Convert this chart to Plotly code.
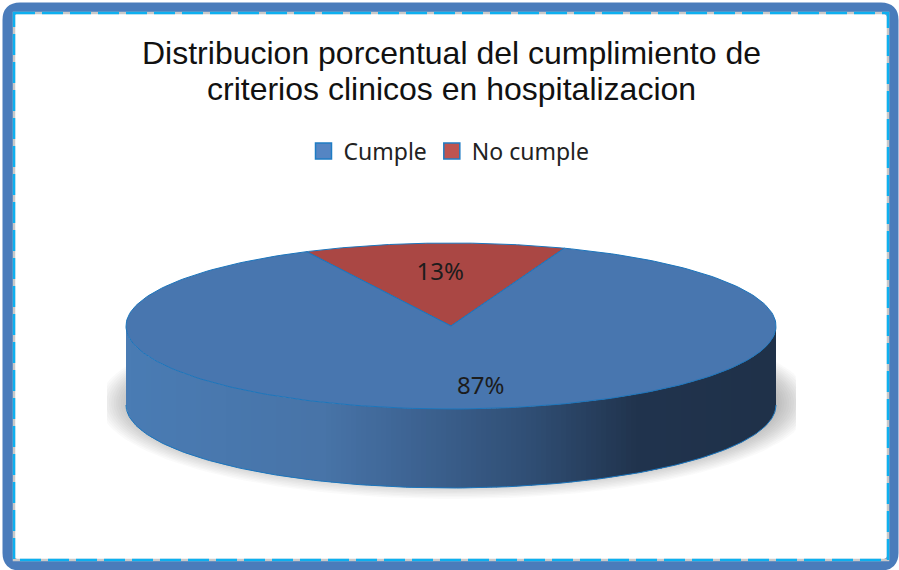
import numpy as np
import plotly.graph_objects as go

# ---- data ----
categories = ["Cumple", "No cumple"]
values = [87, 13]
title_lines = ["Distribucion porcentual del cumplimiento de",
               "criterios clinicos en hospitalizacion"]

# ---- styling / layout ----
W, H = 899, 570
CX, CY, RX, RY, DEPTH = 451, 326, 325, 83, 79
TOP_COLORS = {"Cumple": "#4876AF", "No cumple": "#AA4744"}
LEG_COLORS = {"Cumple": "#5585C3", "No cumple": "#BE5450"}
EDGE = "#1B75BC"
START_DEG = -26.4   # clockwise from 12 o'clock, start of "No cumple"
GRAD_STOPS = [(0.0, (74, 124, 180)), (0.3, (72, 116, 168)), (0.42, (63, 102, 150)),
              (0.62, (48, 78, 116)), (0.78, (33, 52, 78)), (1.0, (31, 49, 73))]


def ell(deg, r=1.0):
    a = np.radians(deg)
    return CX + r * RX * np.sin(a), CY - r * RY * np.cos(a)


def lerp_color(t):
    for (t0, c0), (t1, c1) in zip(GRAD_STOPS, GRAD_STOPS[1:]):
        if t <= t1:
            f = (t - t0) / (t1 - t0)
            return "rgb(%d,%d,%d)" % tuple(c0[i] + f * (c1[i] - c0[i]) for i in range(3))
    return "rgb(31,49,73)"


fig = go.Figure()


def poly(xs, ys, fill, line=None, width=0):
    fig.add_trace(go.Scatter(x=list(xs), y=list(ys), mode="lines", fill="toself", fillcolor=fill,
                             line=dict(color=line or "rgba(0,0,0,0)", width=width),
                             hoverinfo="skip", showlegend=False))


# soft shadow beneath the disc
th = np.linspace(0, 2 * np.pi, 181)
for k in range(20):
    f = k / 19
    rx = 356 - 46 * f
    ry = 96 - 28 * f
    poly(np.clip(CX + 4 + rx * np.cos(th), 107, 796), 403 + ry * np.sin(th), "rgba(90,90,90,0.028)")

# side wall as a horizontal gradient of thin strips
N = 130
edges = np.linspace(CX - RX, CX + RX, N + 1)
for i in range(N):
    x0, x1 = edges[i], min(edges[i + 1] + 1, CX + RX)
    xs = np.linspace(x0, x1, 4)
    up = CY + RY * np.sqrt(np.clip(1 - ((xs - CX) / RX) ** 2, 0, 1))
    poly(np.r_[xs, xs[::-1]], np.r_[up, (up + DEPTH)[::-1]], lerp_color((x0 - edges[0]) / (2 * RX)))

# outline of the bottom of the wall
a = np.linspace(90, 270, 181)
bx, by = ell(a)
fig.add_trace(go.Scatter(x=bx, y=by + DEPTH, mode="lines", line=dict(color=EDGE, width=1),
                         hoverinfo="skip", showlegend=False))

# top face from the values
shares = np.array(values, float) / sum(values) * 360
order = [1, 0]
ang = START_DEG
mids = {}
for idx in order:
    name = categories[idx]
    a = np.linspace(ang, ang + shares[idx], 240)
    ex, ey = ell(a)
    poly(np.r_[CX, ex, CX], np.r_[CY, ey, CY], TOP_COLORS[name], EDGE, 1)
    mids[name] = ang + shares[idx] / 2
    ang += shares[idx]

# value labels
LABEL_R = {"Cumple": 0.75, "No cumple": 0.63}
LABEL_SHIFT = {"Cumple": -4, "No cumple": 0}
for name, v in zip(categories, values):
    lx, ly = ell(mids[name] + LABEL_SHIFT[name], LABEL_R[name])
    fig.add_trace(go.Scatter(x=[lx], y=[ly], mode="text", text=[f"{v}%"], textposition="middle center",
                             textfont=dict(family="Noto Sans", size=24, color="#1c1c1c"),
                             hoverinfo="skip", showlegend=False))

# legend entries
for name in categories:
    fig.add_trace(go.Scatter(x=[None], y=[None], mode="markers", name=name,
                             marker=dict(symbol="square", size=16, color=LEG_COLORS[name],
                                         line=dict(color="#1F7CC4", width=1.5))))

# frame
RAD = 12
x0, y0, x1, y1 = 8, 8, 893, 565
rounded = (f"M {x0+RAD},{y0} L {x1-RAD},{y0} Q {x1},{y0} {x1},{y0+RAD} L {x1},{y1-RAD} Q {x1},{y1} {x1-RAD},{y1} "
           f"L {x0+RAD},{y1} Q {x0},{y1} {x0},{y1-RAD} L {x0},{y0+RAD} Q {x0},{y0} {x0+RAD},{y0} Z")
shapes = [
    dict(type="path", path=rounded, xref="x", yref="y", line=dict(color="#4A7CBB", width=11), layer="above"),
    dict(type="rect", x0=14, y0=13, x1=888, y1=560, xref="x", yref="y",
         line=dict(color="#C9C9C9", width=2.5), layer="above"),
    dict(type="rect", x0=14, y0=13, x1=888, y1=560, xref="x", yref="y",
         line=dict(color="#0DB0F0", width=2.5, dash="21px,7px"), layer="above"),
]

annotations = [
    dict(text=line, x=451, y=yy, xref="x", yref="y", showarrow=False, xanchor="center", yanchor="middle",
         font=dict(family="Liberation Sans", size=32, color="#111111"))
    for line, yy in zip(title_lines, [53, 89])
]

fig.update_layout(
    width=W, height=H, margin=dict(l=0, r=0, t=0, b=0),
    paper_bgcolor="white", plot_bgcolor="white",
    xaxis=dict(range=[0, W], visible=False, fixedrange=True),
    yaxis=dict(range=[H, 0], visible=False, fixedrange=True),
    annotations=annotations,
    legend=dict(orientation="h", x=449 / W, xanchor="center", y=1 - 151 / H, yanchor="middle",
                font=dict(family="Noto Sans", size=23, color="#222222"), bgcolor="rgba(0,0,0,0)"),
    shapes=shapes,
)
fig.write_html("out.html", config=dict(displayModeBar=False),
               post_script="document.body.style.margin='0';document.documentElement.style.overflow='hidden';")
